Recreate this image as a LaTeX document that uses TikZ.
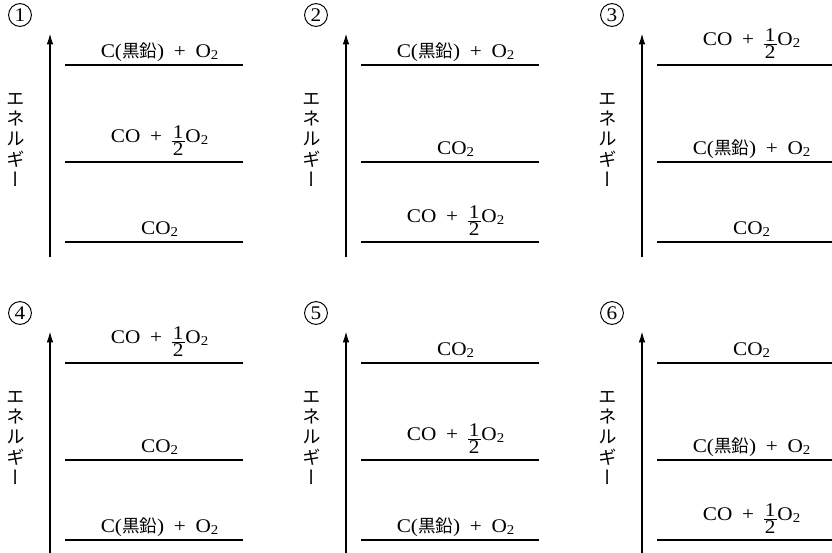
\documentclass[tikz,border=0pt]{standalone}
\usepackage{fontspec}
\setmainfont[FakeStretch=1.1]{Liberation Serif}
\newfontfamily\jpfont{Noto Sans CJK JP}
\newfontfamily\jpvert[RawFeature=+vert]{Noto Sans CJK JP}
\usetikzlibrary{arrows.meta,positioning}
% fraction 1/2 with its bar on the baseline
\newcommand{\halfnum}{\raisebox{-7.9pt}{\vbox{\hbox{\kern0.6pt 1\kern0.6pt}\kern1.5pt
  \hrule height 0.45pt\kern0.85pt\hbox{\kern0.6pt 2\kern0.6pt}}}}
\newcommand{\graphite}{C({\jpfont\fontsize{10}{11}\selectfont 黒鉛})\enspace+\enspace O\textsubscript{2}}
\newcommand{\monoxide}{\raisebox{6.8pt}{CO\enspace+\enspace\halfnum\kern0.5pt O\textsubscript{2}}}
\newcommand{\dioxide}{CO\textsubscript{2}}
\tikzset{
  level/.style={line width=1.1pt},
  axis/.style={-{Latex[length=6.5pt,width=3.8pt]},line width=1pt},
  species/.style={font=\fontsize{11}{13}\selectfont,anchor=base,inner sep=0pt},
  vlabel/.style={font=\jpvert\fontsize{10.5}{11.4}\selectfont,align=center,inner sep=0pt},
  num/.style={circle,draw,line width=0.55pt,inner sep=0pt,minimum size=13pt,
    font=\fontsize{11}{12}\selectfont}
}

\begin{document}
\begin{tikzpicture}[x=0.02cm,y=-0.02cm]
  \useasboundingbox (0,0) rectangle (832,552);

  % one panel per order of the three levels
  \foreach \n/\ax/\oy/\hi/\md/\lo in {
      1/50/0/\graphite/\monoxide/\dioxide,
      2/346/0/\graphite/\dioxide/\monoxide,
      3/642/0/\monoxide/\graphite/\dioxide,
      4/50/298/\monoxide/\dioxide/\graphite,
      5/346/298/\dioxide/\monoxide/\graphite,
      6/642/298/\dioxide/\graphite/\monoxide}{
    \coordinate (foot\n) at (\ax,257+\oy);
    \coordinate (tip\n) at (\ax,33+\oy);
    \draw[axis] (foot\n) -- (tip\n);
    \node[num] (num\n) at (\ax-30,15+\oy) {\n};
    \node[vlabel] (energy\n) at (\ax-34,140+\oy) {エ\\ネ\\ル\\ギ\\ー};

    \draw[level] (\ax+15,65+\oy) coordinate (hiL\n) -- (\ax+193,65+\oy) coordinate (hiR\n);
    \draw[level] (\ax+15,162+\oy) coordinate (mdL\n) -- (\ax+193,162+\oy) coordinate (mdR\n);
    \draw[level] (\ax+15,242+\oy) coordinate (loL\n) -- (\ax+193,242+\oy) coordinate (loR\n);
    \node[species] (hi\n) at (\ax+110,57+\oy) {\hi};
    \node[species] (md\n) at (\ax+110,154+\oy) {\md};
    \node[species] (lo\n) at (\ax+110,234+\oy) {\lo};
  }
\end{tikzpicture}
\end{document}
